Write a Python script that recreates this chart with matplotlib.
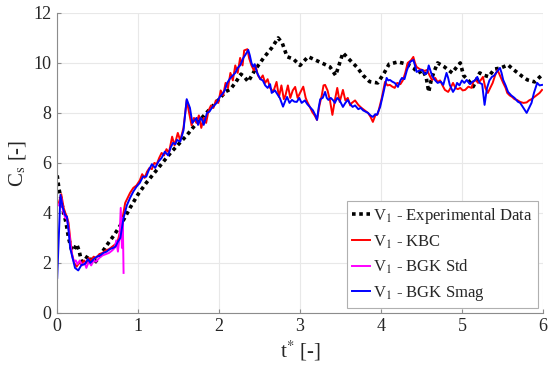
import matplotlib
matplotlib.use("Agg")
import matplotlib.pyplot as plt

plt.rcParams["font.family"] = ["Liberation Serif", "DejaVu Serif"]
plt.rcParams["mathtext.fontset"] = "stix"

# Experimental data (black dotted)
t_exp = [0.0, 0.02, 0.05, 0.08, 0.11, 0.14, 0.18, 0.21, 0.24, 0.27, 0.30, 0.34,
         0.38, 0.42, 0.46, 0.50, 0.60, 0.70, 0.80, 0.90, 1.00, 1.10, 1.20, 1.30,
         1.40, 1.50, 1.60, 1.70, 1.80, 1.90, 2.00, 2.08, 2.14, 2.20, 2.27, 2.31,
         2.36, 2.44, 2.55, 2.65, 2.73, 2.78, 2.84, 2.92, 3.00, 3.10, 3.20, 3.30,
         3.37, 3.44, 3.53, 3.62, 3.70, 3.78, 3.86, 3.96, 4.04, 4.10, 4.21, 4.32,
         4.40, 4.46, 4.52, 4.56, 4.59, 4.62, 4.65, 4.70, 4.78, 4.88, 4.95, 4.98,
         5.02, 5.08, 5.14, 5.22, 5.28, 5.33, 5.40, 5.48, 5.57, 5.63, 5.69, 5.75,
         5.81, 5.90, 5.95, 6.00]
cs_exp = [5.5, 5.0, 4.5, 4.0, 3.6, 3.0, 2.5, 2.55, 2.75, 2.5, 2.05, 2.1,
          2.3, 2.1, 2.0, 2.15, 2.65, 3.1, 3.6, 4.2, 4.75, 5.2, 5.6, 6.0,
          6.4, 6.75, 7.1, 7.5, 7.85, 8.2, 8.55, 8.85, 8.95, 9.2, 9.55, 9.45,
          9.25, 9.7, 10.2, 10.6, 11.0, 10.8, 10.25, 10.15, 9.9, 10.25, 10.1, 9.95,
          9.84, 9.5, 10.4, 10.1, 9.84, 9.5, 9.25, 9.2, 9.6, 9.95, 10.04, 9.95,
          9.8, 9.6, 9.7, 9.4, 8.84, 9.3, 9.6, 10.0, 9.85, 9.6, 9.9, 10.0,
          9.5, 9.3, 9.05, 9.6, 9.5, 9.45, 9.75, 9.8, 9.92, 9.75, 9.6, 9.45,
          9.32, 9.24, 9.4, 9.55]

# KBC (red)
t_kbc = [0.02, 0.05, 0.08, 0.10, 0.12, 0.14, 0.16, 0.18, 0.21, 0.24, 0.27, 0.30,
         0.33, 0.36, 0.39, 0.42, 0.45, 0.48, 0.52, 0.56, 0.60, 0.64, 0.68, 0.72,
         0.75, 0.78, 0.81, 0.84, 0.87, 0.90, 0.94, 0.98, 1.02, 1.05, 1.08, 1.11,
         1.14, 1.17, 1.20, 1.23, 1.26, 1.29, 1.32, 1.35, 1.38, 1.42, 1.45, 1.49,
         1.52, 1.56, 1.60, 1.63, 1.66, 1.69, 1.72, 1.75, 1.78, 1.81, 1.84, 1.87,
         1.90, 1.93, 1.96, 1.99, 2.02, 2.05, 2.08, 2.11, 2.14, 2.17, 2.20, 2.23,
         2.26, 2.29, 2.31, 2.35, 2.37, 2.40, 2.43, 2.45, 2.48, 2.51, 2.54, 2.57,
         2.60, 2.63, 2.67, 2.71, 2.74, 2.77, 2.80, 2.82, 2.85, 2.88, 2.91, 2.94,
         2.97, 3.00, 3.04, 3.07, 3.09, 3.12, 3.15, 3.18, 3.21, 3.24, 3.27, 3.29,
         3.31, 3.34, 3.37, 3.40, 3.43, 3.46, 3.49, 3.53, 3.56, 3.59, 3.62, 3.64,
         3.68, 3.72, 3.76, 3.80, 3.84, 3.87, 3.90, 3.93, 3.96, 4.01, 4.05, 4.08,
         4.11, 4.14, 4.17, 4.20, 4.24, 4.27, 4.30, 4.33, 4.37, 4.40, 4.42, 4.44,
         4.48, 4.51, 4.54, 4.57, 4.60, 4.63, 4.67, 4.70, 4.73, 4.76, 4.79, 4.83,
         4.86, 4.89, 4.92, 4.95, 4.98, 5.01, 5.04, 5.08, 5.12, 5.14, 5.17, 5.20,
         5.23, 5.26, 5.29, 5.32, 5.35, 5.38, 5.41, 5.44, 5.47, 5.51, 5.54, 5.56,
         5.59, 5.62, 5.65, 5.68, 5.72, 5.76, 5.80, 5.83, 5.86, 5.90, 5.93, 5.96,
         5.99]
cs_kbc = [4.4, 4.75, 4.2, 4.0, 3.85, 3.6, 3.0, 2.4, 2.0, 1.85, 2.0, 1.95,
          2.1, 2.0, 2.2, 2.1, 2.25, 2.2, 2.35, 2.4, 2.5, 2.55, 2.65, 2.75,
          2.9, 3.3, 3.85, 4.4, 4.6, 4.8, 5.0, 5.1, 5.3, 5.55, 5.4, 5.65,
          5.8, 5.75, 6.0, 5.95, 6.2, 6.4, 6.3, 6.55, 6.4, 7.05, 6.7, 7.2,
          6.9, 7.4, 8.5, 8.0, 7.5, 7.8, 7.6, 7.9, 7.4, 7.8, 7.6, 8.1,
          8.3, 8.2, 8.5, 8.4, 8.9, 8.7, 9.2, 9.0, 9.6, 9.3, 9.9, 9.6,
          10.2, 9.9, 10.5, 10.55, 10.2, 9.9, 9.7, 9.9, 9.5, 9.35, 9.5, 9.2,
          9.35, 9.0, 8.85, 9.24, 8.64, 9.1, 8.55, 8.7, 9.1, 8.6, 8.9, 9.04,
          8.6, 8.8, 9.05, 8.6, 8.44, 8.25, 8.04, 7.9, 7.72, 8.3, 8.72, 9.1,
          9.12, 8.9, 8.5, 7.92, 8.5, 9.0, 8.44, 8.92, 8.5, 8.6, 8.3, 8.4,
          8.5, 8.32, 8.2, 8.1, 8.0, 7.85, 7.64, 7.9, 7.95, 8.6, 9.24, 9.1,
          9.12, 9.05, 9.0, 9.2, 9.15, 9.3, 9.6, 10.0, 10.1, 10.24, 10.0, 9.84,
          9.75, 9.72, 9.68, 9.72, 9.5, 9.32, 9.4, 9.24, 9.3, 9.1, 8.92, 8.84,
          9.0, 9.2, 9.0, 8.95, 9.0, 8.9, 8.92, 9.05, 9.0, 9.24, 9.32, 9.2,
          9.3, 9.44, 9.0, 8.8, 9.0, 9.2, 9.5, 9.72, 9.5, 9.2, 9.0, 8.8,
          8.7, 8.64, 8.55, 8.52, 8.44, 8.4, 8.42, 8.5, 8.55, 8.65, 8.72, 8.8,
          8.92]

# BGK Std (magenta)
t_std = [0.02, 0.05, 0.07, 0.10, 0.12, 0.14, 0.17, 0.19, 0.21, 0.23, 0.25, 0.28,
         0.31, 0.34, 0.36, 0.39, 0.42, 0.45, 0.48, 0.52, 0.56, 0.60, 0.64, 0.68,
         0.71, 0.73, 0.75, 0.77, 0.785, 0.80, 0.81, 0.82]
cs_std = [4.3, 4.6, 4.1, 3.8, 3.75, 3.4, 2.6, 2.2, 2.05, 2.1, 1.95, 2.1,
          1.9, 2.0, 1.8, 2.05, 1.9, 2.1, 2.05, 2.2, 2.3, 2.35, 2.4, 2.5,
          2.6, 2.9, 2.45, 3.0, 4.2, 2.6, 3.8, 1.6]

# BGK Smag (blue)
t_smag = [0.00, 0.04, 0.07, 0.10, 0.12, 0.14, 0.16, 0.19, 0.22, 0.26, 0.30, 0.34,
          0.38, 0.41, 0.45, 0.49, 0.53, 0.57, 0.61, 0.65, 0.69, 0.72, 0.75, 0.78,
          0.82, 0.86, 0.90, 0.94, 0.98, 1.02, 1.06, 1.10, 1.13, 1.17, 1.21, 1.25,
          1.29, 1.33, 1.37, 1.40, 1.43, 1.46, 1.48, 1.52, 1.56, 1.60, 1.64, 1.67,
          1.70, 1.72, 1.74, 1.77, 1.79, 1.81, 1.85, 1.88, 1.91, 1.94, 1.97, 2.01,
          2.04, 2.07, 2.10, 2.14, 2.17, 2.20, 2.23, 2.26, 2.30, 2.33, 2.36, 2.38,
          2.40, 2.42, 2.44, 2.47, 2.51, 2.54, 2.57, 2.60, 2.63, 2.65, 2.69, 2.72,
          2.75, 2.79, 2.82, 2.84, 2.87, 2.90, 2.93, 2.96, 2.99, 3.02, 3.06, 3.09,
          3.12, 3.16, 3.19, 3.21, 3.23, 3.25, 3.28, 3.31, 3.33, 3.35, 3.38, 3.41,
          3.43, 3.46, 3.49, 3.53, 3.56, 3.59, 3.62, 3.65, 3.68, 3.72, 3.75, 3.78,
          3.81, 3.84, 3.87, 3.90, 3.93, 3.95, 3.99, 4.03, 4.07, 4.09, 4.11, 4.14,
          4.17, 4.21, 4.24, 4.26, 4.29, 4.32, 4.36, 4.40, 4.42, 4.44, 4.48, 4.51,
          4.54, 4.57, 4.59, 4.62, 4.64, 4.67, 4.70, 4.74, 4.77, 4.81, 4.83, 4.85,
          4.89, 4.92, 4.94, 4.97, 5.00, 5.03, 5.06, 5.10, 5.13, 5.16, 5.19, 5.22,
          5.25, 5.28, 5.31, 5.34, 5.37, 5.40, 5.43, 5.47, 5.49, 5.51, 5.54, 5.57,
          5.61, 5.65, 5.69, 5.72, 5.75, 5.78, 5.80, 5.83, 5.86, 5.89, 5.93, 5.96,
          5.99]
cs_smag = [1.4, 4.72, 4.2, 3.9, 3.85, 3.3, 2.6, 2.2, 1.8, 1.7, 1.92, 1.95,
           2.15, 2.0, 2.15, 2.25, 2.3, 2.4, 2.45, 2.55, 2.6, 2.65, 2.85, 3.0,
           3.8, 4.3, 4.6, 4.85, 5.05, 5.2, 5.45, 5.45, 5.7, 5.95, 5.8, 6.05,
           6.2, 6.45, 6.3, 6.6, 6.8, 6.75, 6.92, 6.85, 7.3, 8.55, 8.2, 7.6,
           7.72, 7.8, 7.52, 7.8, 7.72, 7.52, 8.0, 8.05, 8.2, 8.3, 8.4, 8.65,
           8.75, 8.9, 9.2, 9.4, 9.5, 9.6, 9.8, 9.9, 10.2, 10.35, 10.52, 10.3,
           10.0, 9.85, 9.95, 9.6, 9.35, 9.3, 9.1, 9.0, 9.15, 8.8, 8.9, 8.75,
           8.6, 8.25, 8.5, 8.64, 8.4, 8.52, 8.45, 8.44, 8.6, 8.4, 8.5, 8.35,
           8.24, 8.1, 7.9, 7.72, 8.2, 8.55, 8.6, 8.84, 8.6, 8.52, 8.6, 8.5,
           8.4, 8.6, 8.5, 8.24, 8.4, 8.52, 8.35, 8.24, 8.3, 8.15, 8.2, 8.1,
           8.05, 8.0, 7.9, 7.84, 7.95, 7.92, 8.24, 8.8, 9.4, 9.3, 9.32, 9.25,
           9.2, 9.04, 9.3, 9.4, 9.35, 9.7, 10.04, 10.12, 9.9, 9.64, 9.7, 9.72,
           9.55, 9.6, 9.9, 9.6, 9.44, 9.3, 9.2, 9.25, 9.12, 9.6, 9.4, 9.12,
           8.84, 9.0, 9.2, 9.1, 9.3, 9.2, 9.32, 9.15, 9.25, 9.3, 9.44, 9.2,
           9.15, 8.32, 9.0, 9.3, 9.44, 9.5, 9.64, 9.8, 9.6, 9.32, 9.1, 8.84,
           8.7, 8.6, 8.45, 8.4, 8.25, 8.1, 8.0, 8.2, 8.4, 8.8, 9.2, 9.1,
           9.12]

labels = ["V$_1$ - Experimental Data", "V$_1$ - KBC", "V$_1$ - BGK Std", "V$_1$ - BGK Smag"]

fig = plt.figure(figsize=(5.5, 3.69), dpi=100)
ax = fig.add_axes([0.104, 0.152, 0.883, 0.813])

ax.plot(t_exp, cs_exp, color="black", linestyle=(0, (1, 1)), linewidth=2.6, label=labels[0])
ax.plot(t_kbc, cs_kbc, color="#ff0000", linewidth=1.4, label=labels[1])
ax.plot(t_std, cs_std, color="#ff00ff", linewidth=1.4, label=labels[2])
ax.plot(t_smag, cs_smag, color="#0000ff", linewidth=1.4, label=labels[3])

ax.set_xlim(0, 6)
ax.set_ylim(0, 12)
ax.set_xticks(range(0, 7))
ax.set_yticks(range(0, 13, 2))
ax.grid(True, color="#e8e8e8", linewidth=0.8)
ax.set_axisbelow(True)

for side in ["top", "right"]:
    ax.spines[side].set_visible(False)
for side in ["left", "bottom"]:
    ax.spines[side].set_color("#8c8c8c")
    ax.spines[side].set_linewidth(0.8)
ax.tick_params(direction="in", length=3, color="#8c8c8c", labelsize=13,
               labelcolor="#262626", pad=4)

ax.set_xlabel(r"t$^\mathrm{*}$ [-]", fontsize=15, color="#262626", labelpad=2)
ax.set_ylabel(r"C$_\mathrm{s}$ [-]", fontsize=15, color="#262626", labelpad=4)

leg = ax.legend(loc="lower right", fontsize=12, frameon=True, fancybox=False,
                framealpha=1, edgecolor="#b0b0b0", handlelength=1.1,
                handletextpad=0.2, labelspacing=0.45, borderpad=0.3,
                borderaxespad=0.3)
leg.get_frame().set_linewidth(0.8)
for txt in leg.get_texts():
    txt.set_color("#262626")

fig.savefig("out.png", dpi=100)
